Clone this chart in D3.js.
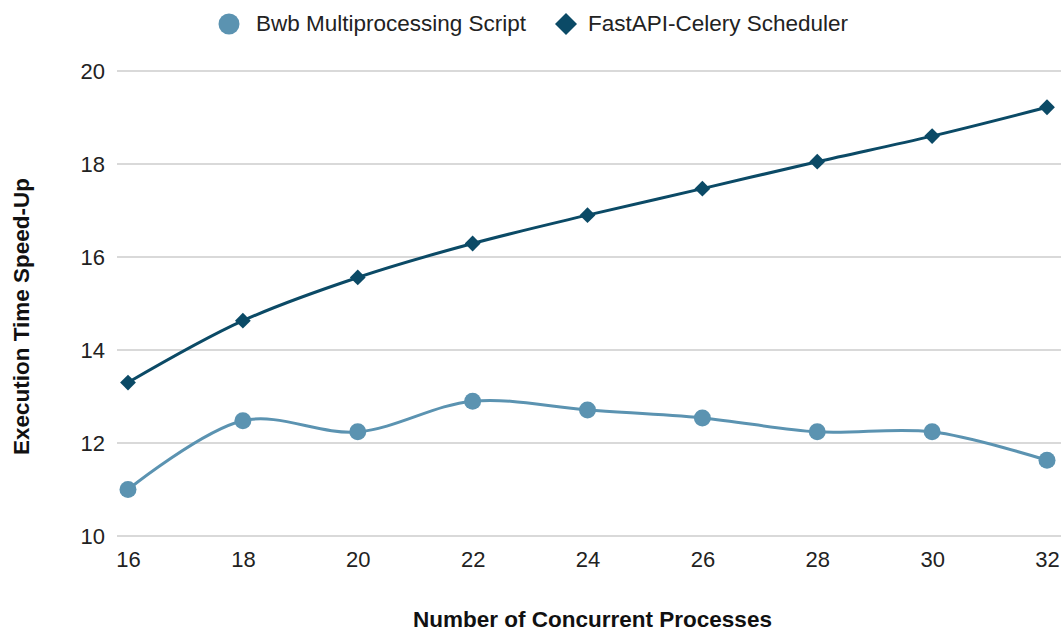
<!DOCTYPE html>
<html>
<head>
<meta charset="utf-8">
<script src="https://cdn.jsdelivr.net/npm/d3@7"></script>
<style>
  html, body { margin: 0; padding: 0; background: #fff; }
  svg { display: block; font-family: "Liberation Sans", Arial, sans-serif; }
</style>
</head>
<body>
<svg id="chart" width="1063" height="633"></svg>
<script>
// Number of concurrent processes
const processes = [16, 18, 20, 22, 24, 26, 28, 30, 32];
// Execution time speed-up per approach
const bwbSpeedup = [11.0, 12.48, 12.24, 12.9, 12.71, 12.54, 12.24, 12.24, 11.63];
const celerySpeedup = [13.3, 14.63, 15.56, 16.29, 16.9, 17.47, 18.05, 18.6, 19.22];
const seriesNames = ["Bwb Multiprocessing Script", "FastAPI-Celery Scheduler"];
const yTicks = [10, 12, 14, 16, 18, 20];

const colors = ["#5b93b1", "#0b4a66"];
const tickFont = 22;
const labelFont = 22.5;

const svg = d3.select("#chart");
const margin = { left: 128, right: 16, top: 71, bottom: 97 };
const W = 1063, H = 633;

const x = d3.scaleLinear().domain([16, 32]).range([margin.left, W - margin.right]);
const y = d3.scaleLinear().domain([10, 20]).range([H - margin.bottom, margin.top]);

// Horizontal gridlines
svg.append("g").selectAll("line").data(yTicks).join("line")
  .attr("x1", x(16) - 11).attr("x2", W - 2)
  .attr("y1", d => y(d)).attr("y2", d => y(d))
  .attr("stroke", "#cccccc").attr("stroke-width", 1.4);

// Y axis tick labels
const yAxis = d3.axisLeft(y).tickValues(yTicks).tickSize(0).tickPadding(0).tickFormat(d3.format("d"));
const gy = svg.append("g").attr("transform", `translate(${x(16) - 23},0)`).call(yAxis);
gy.select(".domain").remove();
gy.selectAll("text").attr("font-size", tickFont).attr("fill", "#222")
  .attr("font-family", "Liberation Sans, Arial, sans-serif").attr("dy", "0.36em");

// X axis tick labels
const xAxis = d3.axisBottom(x).tickValues(processes).tickSize(0).tickPadding(0).tickFormat(d3.format("d"));
const gx = svg.append("g").attr("transform", `translate(0,567)`).call(xAxis);
gx.select(".domain").remove();
gx.selectAll("text").attr("font-size", tickFont).attr("fill", "#222")
  .attr("font-family", "Liberation Sans, Arial, sans-serif").attr("y", 0).attr("dy", 0);

// Axis titles
svg.append("text")
  .attr("x", (x(16) + x(32)) / 2 + 5).attr("y", 627)
  .attr("text-anchor", "middle").attr("font-size", labelFont).attr("font-weight", "bold").attr("fill", "#111")
  .text("Number of Concurrent Processes");
svg.append("text")
  .attr("transform", `translate(29,${(y(10) + y(20)) / 2 + 13}) rotate(-90)`)
  .attr("text-anchor", "middle").attr("font-size", labelFont).attr("font-weight", "bold").attr("fill", "#111")
  .text("Execution Time Speed-Up");

// Lines
const line = d3.line()
  .x((d, i) => x(processes[i]))
  .y(d => y(d))
  .curve(d3.curveCatmullRom.alpha(0.5));

const series = [bwbSpeedup, celerySpeedup];
series.forEach((vals, s) => {
  svg.append("path").datum(vals)
    .attr("d", line).attr("fill", "none")
    .attr("stroke", colors[s]).attr("stroke-width", 3);
});

// Markers
svg.append("g").selectAll("circle").data(bwbSpeedup).join("circle")
  .attr("cx", (d, i) => x(processes[i])).attr("cy", d => y(d))
  .attr("r", 8.5).attr("fill", colors[0]);

const diamond = d3.symbol().type(d3.symbolSquare).size(125);
svg.append("g").selectAll("path").data(celerySpeedup).join("path")
  .attr("d", diamond)
  .attr("transform", (d, i) => `translate(${x(processes[i])},${y(d)}) rotate(45)`)
  .attr("fill", colors[1]);

// Legend
const legend = svg.append("g");
legend.append("circle").attr("cx", 229).attr("cy", 24).attr("r", 10.5).attr("fill", colors[0]);
legend.append("text").attr("x", 256).attr("y", 31).attr("font-size", labelFont).attr("fill", "#222").text(seriesNames[0]);
legend.append("path").attr("d", d3.symbol().type(d3.symbolSquare).size(242))
  .attr("transform", "translate(566,24) rotate(45)").attr("fill", colors[1]);
legend.append("text").attr("x", 588).attr("y", 31).attr("font-size", labelFont).attr("fill", "#222").text(seriesNames[1]);
</script>
</body>
</html>
